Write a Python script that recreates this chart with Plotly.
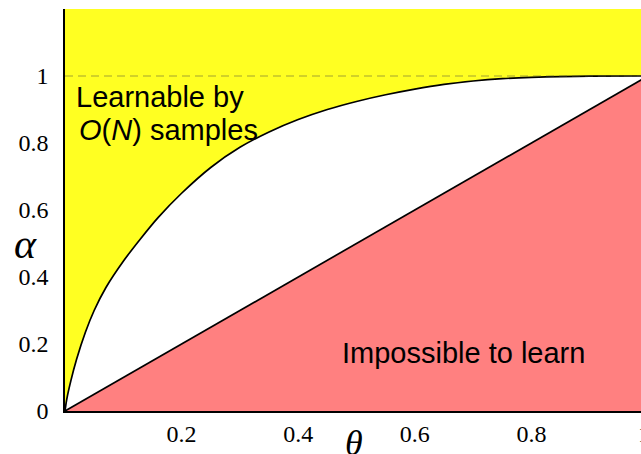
import plotly.graph_objects as go

# Boundary curve alpha(theta)
theta = [0, 0.003, 0.01, 0.02, 0.035, 0.05, 0.07, 0.1, 0.13, 0.16, 0.2, 0.25, 0.3,
         0.35, 0.4, 0.45, 0.5, 0.55, 0.6, 0.65, 0.7, 0.75, 0.8, 0.85, 0.9, 1.0]
alpha = [0, 0.035, 0.09, 0.155, 0.235, 0.30, 0.368, 0.447, 0.515, 0.578, 0.65, 0.727,
         0.787, 0.833, 0.870, 0.900, 0.924, 0.944, 0.961, 0.975, 0.985, 0.992, 0.996,
         0.998, 0.9995, 1.0]

# Diagonal alpha = theta
diag_x = [0, 1]
diag_y = [0, 1]

# Reference level
ref_x = [0, 1]
ref_y = [1, 1]

x_ticks = [0.2, 0.4, 0.6, 0.8]
x_ticktext = ["0.2", "0.4", "0.6", "0.8"]
y_ticks = [0, 0.2, 0.4, 0.6, 0.8, 1]
y_ticktext = ["0", "0.2", "0.4", "0.6", "0.8", "1"]

YELLOW = "#ffff22"
RED = "#ff8080"
SERIF = "Liberation Serif"
SANS = "Liberation Sans"

fig = go.Figure()
fig.add_trace(go.Scatter(x=theta, y=alpha, mode="lines", fill="tozeroy",
                         fillcolor="white",
                         line=dict(color="black", width=1.7, shape="spline", smoothing=0.8),
                         hoverinfo="skip", showlegend=False))
fig.add_trace(go.Scatter(x=diag_x, y=diag_y, mode="lines", fill="tozeroy",
                         fillcolor=RED, line=dict(color="black", width=1.7),
                         hoverinfo="skip", showlegend=False))
fig.add_trace(go.Scatter(x=ref_x, y=ref_y, mode="lines",
                         line=dict(color="rgba(90,90,60,0.55)", width=1, dash="8px,5px"),
                         hoverinfo="skip", showlegend=False))

fig.update_layout(
    width=641, height=454,
    margin=dict(l=65, r=0, t=9, b=43),
    paper_bgcolor="white",
    plot_bgcolor=YELLOW,
    xaxis=dict(range=[0, 0.988], showgrid=False, zeroline=False, showline=True,
               automargin=False,
               linecolor="black", linewidth=1.5, ticks="", tickvals=x_ticks,
               ticktext=x_ticktext, tickfont=dict(family=SERIF, size=24, color="black"),
               ticklabelstandoff=0),
    yaxis=dict(range=[0, 1.2], showgrid=False, zeroline=False, showline=True,
               automargin=False,
               linecolor="black", linewidth=1.5, ticks="", tickvals=y_ticks,
               ticktext=y_ticktext, tickfont=dict(family=SERIF, size=24, color="black"),
               ticklabelstandoff=10),
    annotations=[
        dict(text="1", xref="paper", x=1.0, yref="paper", y=0, yanchor="top", yshift=-8,
             xanchor="center", xshift=3, showarrow=False,
             font=dict(family=SERIF, size=24, color="black")),
        dict(text="<i>α</i>", xref="paper", x=-0.068, yref="y", y=0.5,
             xanchor="center", yanchor="middle", showarrow=False,
             font=dict(family=SERIF, size=42, color="black")),
        dict(text="<i>θ</i>", xref="x", x=0.495, yref="paper", y=-0.08,
             xanchor="center", yanchor="middle", showarrow=False,
             font=dict(family=SERIF, size=36, color="black")),
        dict(text="Learnable by", xref="x", x=0.016, yref="y", y=0.937,
             xanchor="left", yanchor="middle", showarrow=False,
             font=dict(family=SANS, size=29, color="black")),
        dict(text="<i>O</i>(<i>N</i>) samples", xref="x", x=0.02, yref="y", y=0.839,
             xanchor="left", yanchor="middle", showarrow=False,
             font=dict(family=SANS, size=29, color="black")),
        dict(text="Impossible to learn", xref="x", x=0.684, yref="y", y=0.173,
             xanchor="center", yanchor="middle", showarrow=False,
             font=dict(family=SANS, size=29, color="black")),
    ],
)

fig.write_html("out.html", config={"displayModeBar": False},
               post_script="document.body.style.margin='0';document.body.style.overflow='hidden';")
